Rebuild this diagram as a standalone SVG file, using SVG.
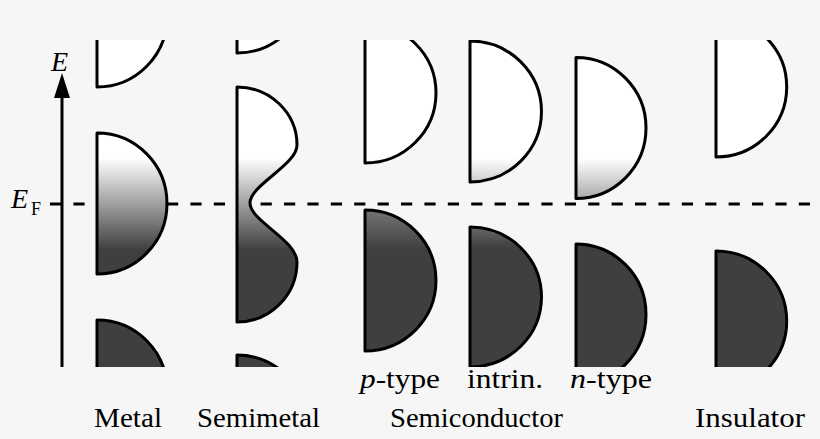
<svg xmlns="http://www.w3.org/2000/svg" width="820" height="439" viewBox="0 0 820 439">
<style>
.band{stroke:#000;stroke-width:3;stroke-linejoin:round}
text{font-family:'Liberation Serif','Tinos','Times New Roman','Times','Nimbus Roman','Nimbus Roman No9 L','FreeSerif','Noto Serif','DejaVu Serif','Georgia',serif;fill:#000}
.lbl{font-size:27px}
.it{font-style:italic}
</style>
<defs>
<linearGradient id="fd" gradientUnits="userSpaceOnUse" x1="0" y1="158" x2="0" y2="250">
<stop offset="0" stop-color="#ffffff"/>
<stop offset="1" stop-color="#3f3f3f"/>
</linearGradient>
<linearGradient id="fdp" gradientUnits="userSpaceOnUse" x1="0" y1="210" x2="0" y2="250">
<stop offset="0" stop-color="#747474"/>
<stop offset="1" stop-color="#3f3f3f"/>
</linearGradient>
<linearGradient id="fdi" gradientUnits="userSpaceOnUse" x1="0" y1="226" x2="0" y2="248">
<stop offset="0" stop-color="#686868"/>
<stop offset="1" stop-color="#3f3f3f"/>
</linearGradient>
<clipPath id="win"><rect x="0" y="40" width="820" height="327"/></clipPath>
</defs>
<rect x="0" y="0" width="820" height="439" fill="#f6f6f6"/>

<g id="connectors">
<line x1="50" y1="204" x2="820" y2="204" stroke="#000" stroke-width="3" stroke-dasharray="11.2 12.2"/>
<line x1="62" y1="367" x2="62" y2="96" stroke="#000" stroke-width="3"/>
<path d="M62,73 L70,98 L54,98 Z" fill="#000"/>
</g>

<g id="axis-labels">
<text class="it" font-size="28" x="51" y="71">E</text>
<text class="it" font-size="28" x="11" y="208">E</text>
<text font-size="18" x="31" y="215">F</text>
</g>

<g clip-path="url(#win)">
<g id="metal">
<path class="band" fill="#fff" d="M97,-53 A70,70 0 0 1 97,87 Z"/>
<path class="band" fill="url(#fd)" d="M97,133 A70,70.5 0 0 1 97,274 Z"/>
<path class="band" fill="#3f3f3f" d="M97,320 A70,70 0 0 1 97,460 Z"/>
</g>
<g id="semimetal">
<path class="band" fill="#fff" d="M237,-87 A70,70 0 0 1 237,53 Z"/>
<path class="band" fill="url(#fd)" d="M237,87 A60,58 0 0 1 297,145 C297,165 250,185 250,203 C250,221 297,240 297,262 A60,60 0 0 1 237,322 Z"/>
<path class="band" fill="#3f3f3f" d="M237,355 A70,70 0 0 1 237,495 Z"/>
</g>
<g id="p-type">
<path class="band" fill="url(#fd)" d="M365,23 A71,70 0 0 1 365,163 Z"/>
<path class="band" fill="url(#fdp)" d="M365,210 A71,70.5 0 0 1 365,351 Z"/>
</g>
<g id="intrinsic">
<path class="band" fill="url(#fd)" d="M470,41 A71.5,70.5 0 0 1 470,182 Z"/>
<path class="band" fill="url(#fdi)" d="M470,227 A71.5,70 0 0 1 470,367 Z"/>
</g>
<g id="n-type">
<path class="band" fill="url(#fd)" d="M576,57.5 A70,70.5 0 0 1 576,198.5 Z"/>
<path class="band" fill="#3f3f3f" d="M576,244 A70,70.5 0 0 1 576,385 Z"/>
</g>
<g id="insulator">
<path class="band" fill="#fff" d="M716,17 A70.7,70 0 0 1 716,157 Z"/>
<path class="band" fill="#3f3f3f" d="M716,251 A70.7,70 0 0 1 716,391 Z"/>
</g>
</g>

<g id="labels">
<text class="lbl" x="360" y="388" textLength="80" lengthAdjust="spacingAndGlyphs"><tspan class="it">p</tspan>-type</text>
<text class="lbl" x="467" y="388" textLength="76" lengthAdjust="spacingAndGlyphs">intrin.</text>
<text class="lbl" x="570" y="388" textLength="82" lengthAdjust="spacingAndGlyphs"><tspan class="it">n</tspan>-type</text>
<text class="lbl" x="94" y="427" textLength="68" lengthAdjust="spacingAndGlyphs">Metal</text>
<text class="lbl" x="197" y="427" textLength="123" lengthAdjust="spacingAndGlyphs">Semimetal</text>
<text class="lbl" x="390" y="427" textLength="173" lengthAdjust="spacingAndGlyphs">Semiconductor</text>
<text class="lbl" x="695" y="427" textLength="110" lengthAdjust="spacingAndGlyphs">Insulator</text>
</g>
</svg>
